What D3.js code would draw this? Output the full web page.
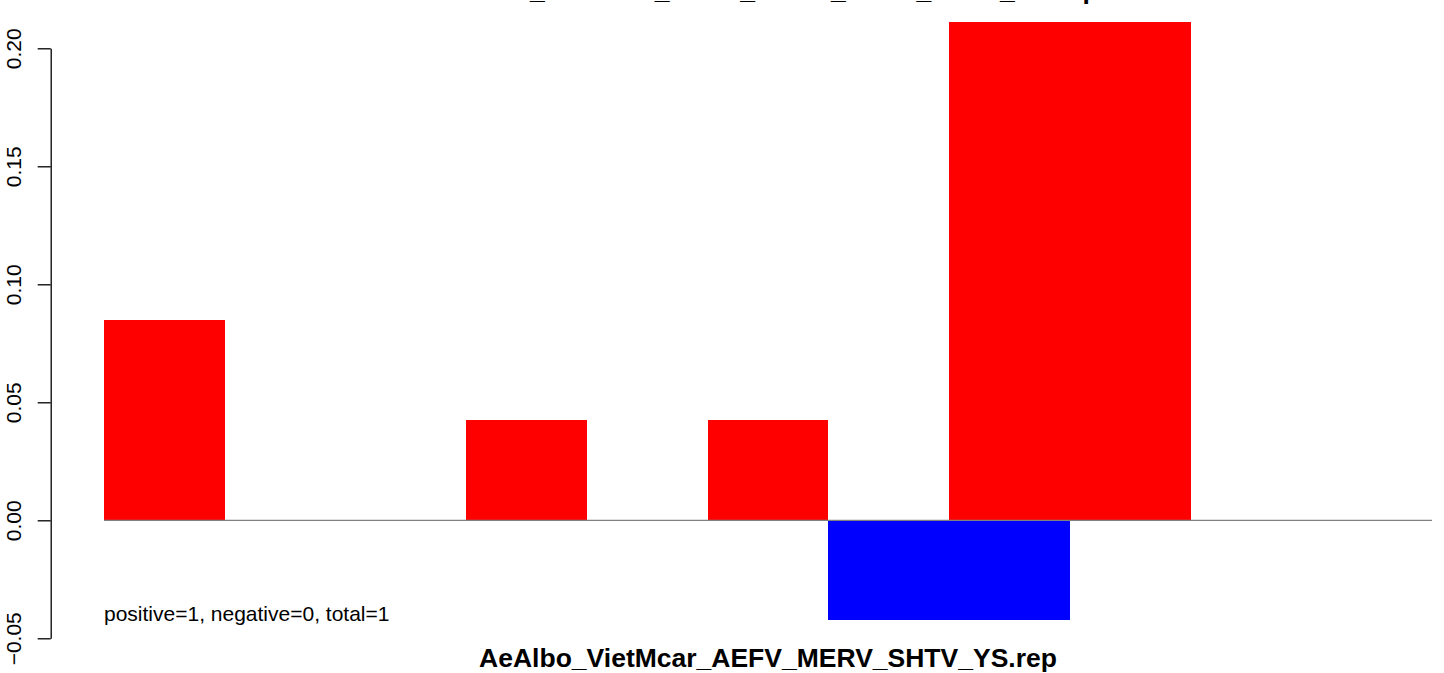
<!DOCTYPE html>
<html>
<head>
<meta charset="utf-8">
<script src="https://cdn.jsdelivr.net/npm/d3@7"></script>
<style>
  html, body { margin: 0; padding: 0; background: #ffffff; }
  svg { display: block; }
  text { font-family: "Liberation Sans", Arial, Helvetica, sans-serif; }
</style>
</head>
<body>
<svg id="chart" width="1444" height="673"></svg>
<script>
// ---- data ----
const categories = ["1", "2", "3", "4", "5", "6", "7", "8", "9", "10", "11"];
const positiveValues = [0.0847, 0, 0, 0.0423, 0, 0.0423, 0, 0.2113, 0.2113, 0, 0];
const negativeValues = [0, 0, 0, 0, 0, 0, -0.0423, -0.0423, 0, 0, 0];
const yTicks = [-0.05, 0.00, 0.05, 0.10, 0.15, 0.20];
const titleText = "AeAlbo_VietMcar_AEFV_MERV_SHTV_CFAV_YS.rep";
const xLabelText = "AeAlbo_VietMcar_AEFV_MERV_SHTV_YS.rep";
const noteText = "positive=1, negative=0, total=1";

// ---- layout ----
const svg = d3.select("#chart");
const axisX = 50.7;
const centerX = 768;

const x = d3.scaleBand()
  .domain(categories)
  .range([104, 1432])
  .paddingInner(0)
  .paddingOuter(0);

const y = d3.scaleLinear()
  .domain([-0.05, 0.20])
  .range([638.3, 48.3]);

// positive bars
svg.append("g")
  .selectAll("rect")
  .data(categories.map((c, i) => ({ c, v: positiveValues[i] })).filter(d => d.v !== 0))
  .join("rect")
  .attr("x", d => x(d.c))
  .attr("width", x.bandwidth())
  .attr("y", d => y(d.v))
  .attr("height", d => y(0) - y(d.v))
  .attr("fill", "#ff0000")
  .attr("shape-rendering", "crispEdges");

// negative bars
svg.append("g")
  .selectAll("rect")
  .data(categories.map((c, i) => ({ c, v: negativeValues[i] })).filter(d => d.v !== 0))
  .join("rect")
  .attr("x", d => x(d.c))
  .attr("width", x.bandwidth())
  .attr("y", y(0))
  .attr("height", d => y(d.v) - y(0))
  .attr("fill", "#0000ff")
  .attr("shape-rendering", "crispEdges");

// zero baseline
svg.append("line")
  .attr("x1", x.range()[0])
  .attr("x2", x.range()[1])
  .attr("y1", y(0))
  .attr("y2", y(0))
  .attr("stroke", "#808080")
  .attr("stroke-width", 1.2);

// y axis
const yAxis = d3.axisLeft(y)
  .tickValues(yTicks)
  .tickFormat(d3.format(".2f"))
  .tickSizeInner(13)
  .tickSizeOuter(0);

const gy = svg.append("g")
  .attr("transform", `translate(${axisX},0)`)
  .call(yAxis);

gy.select(".domain").attr("stroke", "#000").attr("stroke-width", 1.3);
gy.selectAll(".tick line").attr("stroke", "#000").attr("stroke-width", 1.3);
gy.selectAll(".tick text")
  .attr("x", null)
  .attr("dy", null)
  .attr("transform", `translate(${21 - axisX},0) rotate(-90)`)
  .attr("text-anchor", "middle")
  .attr("fill", "#000")
  .style("font-size", "21px")
  .style("font-family", "'Liberation Sans', Arial, Helvetica, sans-serif");

// title (mostly outside the visible area at top, as in the reference)
svg.append("text")
  .attr("x", centerX)
  .attr("y", -1.5)
  .attr("text-anchor", "middle")
  .style("font-size", "26.5px")
  .style("font-weight", "bold")
  .attr("fill", "#000")
  .text(titleText);

// x label
svg.append("text")
  .attr("x", centerX)
  .attr("y", 667)
  .attr("text-anchor", "middle")
  .style("font-size", "26.5px")
  .style("font-weight", "bold")
  .attr("fill", "#000")
  .text(xLabelText);

// note
svg.append("text")
  .attr("x", x.range()[0])
  .attr("y", 620.5)
  .attr("text-anchor", "start")
  .style("font-size", "21px")
  .attr("fill", "#000")
  .text(noteText);
</script>
</body>
</html>
